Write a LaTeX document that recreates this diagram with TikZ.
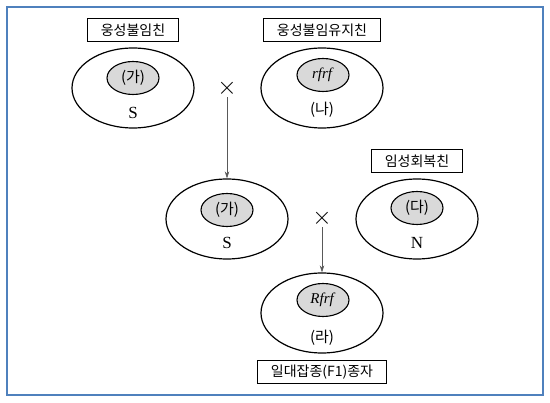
\documentclass[tikz,border=0pt]{standalone}
\usepackage{fontspec}
\setmainfont{Liberation Serif}
\newfontfamily\kr{Noto Sans CJK KR}
\usetikzlibrary{shapes.geometric,arrows.meta}
\definecolor{frameblue}{RGB}{79,129,189}

\begin{document}
\begin{tikzpicture}[x=1pt, y=-1pt,
        cell/.style={ellipse, draw, line width=1.2pt,
          minimum width=122pt, minimum height=80pt},
        core/.style={ellipse, draw, line width=1.1pt, fill=gray!30,
          minimum width=52pt, minimum height=33pt, inner sep=0pt,
          font=\fontsize{15}{17}\selectfont},
        tag/.style={font=\fontsize{17}{19}\selectfont},
        namebox/.style={rectangle, draw, line width=1.1pt,
          minimum height=23pt, inner xsep=13pt, inner ysep=2pt,
          font=\kr\fontsize{14}{16}\selectfont},
        cross/.style={font=\fontsize{23}{25}\selectfont, inner sep=1pt},
        arrow/.style={-{Stealth[length=7pt,width=4.5pt]}, draw=gray!70!black, line width=0.6pt}
      ]
      \useasboundingbox (0,0) rectangle (550,403);
      \draw[frameblue, line width=1.5pt] (7,7) rectangle (543,395);
      % parents
      \node[namebox] (lbA) at (133,30) {웅성불임친};
      \node[cell] (pA) at (133,88) {};
      \node[core] (gA) at (133,78) {\kr(가)};
      \node[tag] (tA) at (133,113) {S};
      \node[namebox] (lbB) at (322,30) {웅성불임유지친};
      \node[cell] (pB) at (322,88) {};
      \node[core] (gB) at (323,75) {\textit{rfrf}};
      \node[tag, font=\kr\fontsize{15}{17}\selectfont] (tB) at (322,110) {(나)};
      \node[cross] (xA) at (227,88) {$\times$};
      % second cross
      \node[cell] (pC) at (227,219) {};
      \node[core] (gC) at (227,210) {\kr(가)};
      \node[tag] (tC) at (227,243) {S};
      \node[namebox] (lbD) at (417,161) {임성회복친};
      \node[cell] (pD) at (417,219) {};
      \node[core] (gD) at (417,208) {\kr(다)};
      \node[tag] (tD) at (417,243) {N};
      \node[cross] (xB) at (322,218) {$\times$};
      % F1
      \node[cell] (pE) at (322,313) {};
      \node[core] (gE) at (323,300) {\textit{Rfrf}};
      \node[tag, font=\kr\fontsize{15}{17}\selectfont] (tE) at (322,338) {(라)};
      \node[namebox] (lbE) at (322,372) {일대잡종(F1)종자};
      \foreach \a/\b in {xA/pC,xB/pE}
      {\draw[arrow] (\a) -- (\b);}
    \end{tikzpicture}
\end{document}
